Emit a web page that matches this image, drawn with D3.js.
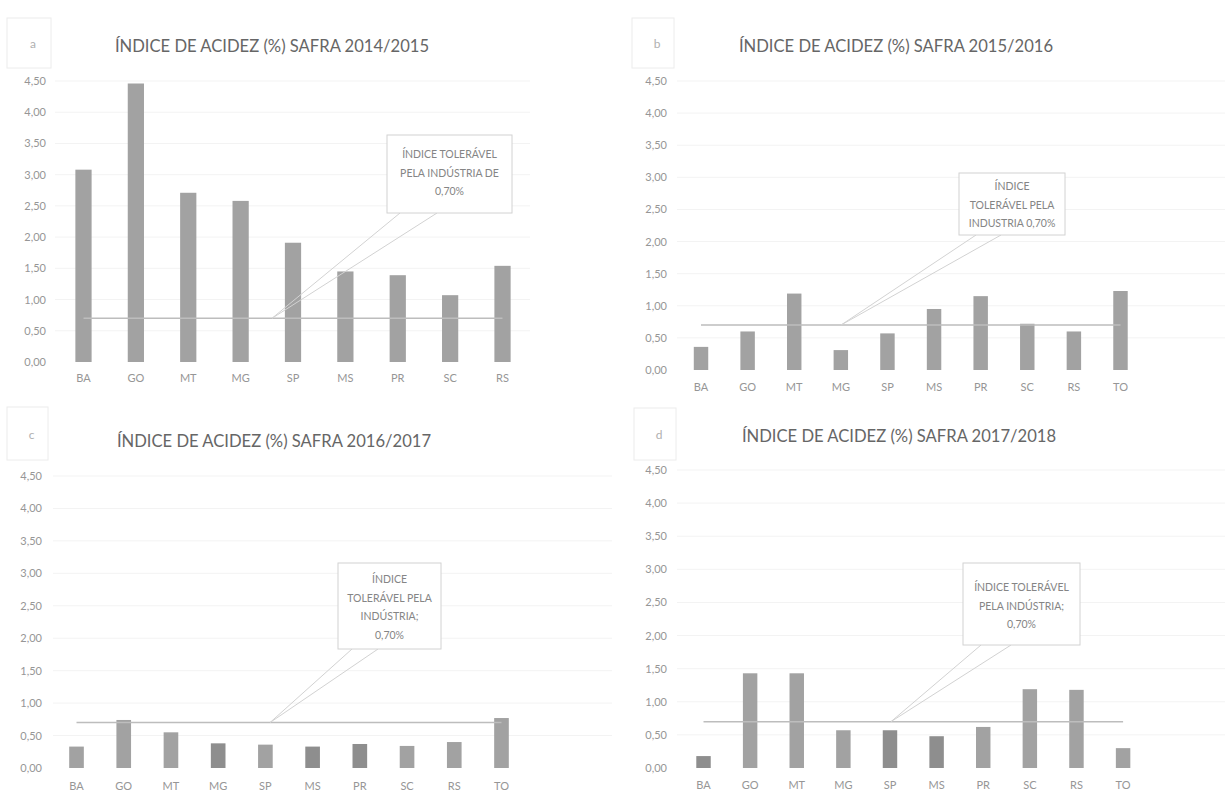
<!DOCTYPE html>
<html>
<head>
<meta charset="utf-8">
<title>Índice de acidez (%) por safra</title>
<style>
  body { margin: 0; background: #fff; }
  svg text { font-family: "Lato", "Open Sans", sans-serif; }
</style>
</head>
<body>
<script src="https://cdn.jsdelivr.net/npm/d3@7"></script>
<script>

// dados
var estados9  = ["BA", "GO", "MT", "MG", "SP", "MS", "PR", "SC", "RS"];
var estados10 = ["BA", "GO", "MT", "MG", "SP", "MS", "PR", "SC", "RS", "TO"];

var acidez1415 = [3.08, 4.46, 2.71, 2.58, 1.91, 1.45, 1.39, 1.07, 1.54];
var acidez1516 = [0.36, 0.60, 1.19, 0.31, 0.57, 0.95, 1.15, 0.72, 0.60, 1.23];
var acidez1617 = [0.33, 0.74, 0.55, 0.38, 0.36, 0.33, 0.37, 0.34, 0.40, 0.77];
var acidez1718 = [0.18, 1.43, 1.43, 0.57, 0.57, 0.48, 0.62, 1.19, 1.18, 0.30];

var limite = 0.70;   // índice tolerável pela indústria
var yTicks = [0, 0.5, 1, 1.5, 2, 2.5, 3, 3.5, 4, 4.5];

var titulos = [
  "ÍNDICE DE ACIDEZ (%) SAFRA 2014/2015",
  "ÍNDICE DE ACIDEZ (%) SAFRA 2015/2016",
  "ÍNDICE DE ACIDEZ (%) SAFRA 2016/2017",
  "ÍNDICE DE ACIDEZ (%) SAFRA 2017/2018"
];
var letras = ["a", "b", "c", "d"];
var notas = [
  ["ÍNDICE TOLERÁVEL", "PELA INDÚSTRIA DE", "0,70%"],
  ["ÍNDICE", "TOLERÁVEL PELA", "INDUSTRIA 0,70%"],
  ["ÍNDICE", "TOLERÁVEL PELA", "INDÚSTRIA;", "0,70%"],
  ["ÍNDICE TOLERÁVEL", "PELA INDÚSTRIA;", "0,70%"]
];

var width = 1227, height = 802;

var svg = d3.select("body").append("svg")
    .attr("width", width)
    .attr("height", height);

// posição de cada painel na página
var paineis = [
  { cats: estados9,  vals: acidez1415, xr: [57.3, 528.7], yr: [362, 81],
    labelX: 46, gridX: [55, 530], xLabY: 384, titleX: 272, titleY: 52,
    box: [387, 135, 125, 78], base: [400, 437], tipX: 272, lineY0: 158,
    tag: [7, 18, 44, 50], dark: [] },
  { cats: estados10, vals: acidez1516, xr: [677.7, 1143.8], yr: [370, 81],
    labelX: 667, gridX: [677, 1225], xLabY: 393, titleX: 896, titleY: 52,
    box: [959, 173, 106, 62], base: [976, 1001], tipX: 841, lineY0: 190,
    tag: [632, 18, 42, 50], dark: [] },
  { cats: estados10, vals: acidez1617, xr: [52.9, 525.1], yr: [768, 476],
    labelX: 42, gridX: [53, 612], xLabY: 792, titleX: 274, titleY: 447,
    box: [338, 563, 103, 86], base: [352, 378], tipX: 270, lineY0: 583,
    tag: [7, 407, 41, 53], dark: ["MG", "MS", "PR"] },
  { cats: estados10, vals: acidez1718, xr: [680.2, 1146.4], yr: [768, 470],
    labelX: 667, gridX: [677, 1225], xLabY: 791, titleX: 899, titleY: 442,
    box: [963, 563, 117, 82], base: [981, 1011], tipX: 891, lineY0: 591,
    tag: [634, 408, 42, 52], dark: ["BA", "SP", "MS"] }
];

function desenha(p, i) {
  var g = svg.append("g");

  var x = d3.scaleBand()
      .domain(p.cats)
      .range(p.xr)
      .paddingInner(0.69)
      .paddingOuter(0.345);

  var y = d3.scaleLinear()
      .domain([0, 4.5])
      .range(p.yr);

  // linhas de grade
  g.append("g")
    .selectAll("line")
    .data(yTicks.slice(1))
    .enter().append("line")
    .attr("x1", p.gridX[0]).attr("x2", p.gridX[1])
    .attr("y1", function(d){ return y(d); })
    .attr("y2", function(d){ return y(d); })
    .attr("stroke", "#f3f3f3")
    .attr("stroke-width", 1);

  // eixo y
  var eixoY = d3.axisLeft(y)
      .tickValues(yTicks)
      .tickSize(0)
      .tickPadding(0)
      .tickFormat(function(d){ return d3.format(".2f")(d).replace(".", ","); });
  var gy = g.append("g")
      .attr("transform", "translate(" + p.labelX + ",0)")
      .call(eixoY);
  gy.select(".domain").remove();
  gy.selectAll("text").attr("fill", "#969696").attr("font-size", "11px");

  // eixo x
  var eixoX = d3.axisBottom(x).tickSize(0).tickPadding(0);
  var gx = g.append("g")
      .attr("transform", "translate(0," + (p.xLabY - 10) + ")")
      .call(eixoX);
  gx.select(".domain").remove();
  gx.selectAll("text").attr("fill", "#969696").attr("font-size", "11px");

  // barras
  g.append("g")
    .selectAll("rect")
    .data(p.vals)
    .enter().append("rect")
    .attr("x", function(d, k){ return x(p.cats[k]); })
    .attr("y", function(d){ return y(d); })
    .attr("width", x.bandwidth())
    .attr("height", function(d){ return y(0) - y(d); })
    .attr("fill", function(d, k){
      return p.dark.indexOf(p.cats[k]) >= 0 ? "#8e8e8e" : "#a2a2a2";
    });

  // linha do índice tolerável
  var xa = x(p.cats[0]) + x.bandwidth() / 2;
  var xb = x(p.cats[p.cats.length - 1]) + x.bandwidth() / 2;
  g.append("line")
    .attr("x1", xa).attr("x2", xb)
    .attr("y1", y(limite)).attr("y2", y(limite))
    .attr("stroke", "#bdbdbd")
    .attr("stroke-width", 1.5);

  // balão de texto
  var b = p.box;
  g.append("path")
    .attr("d", "M" + p.base[0] + "," + (b[1] + b[3]) +
               " L" + p.tipX + "," + y(limite) +
               " L" + p.base[1] + "," + (b[1] + b[3]))
    .attr("fill", "none")
    .attr("stroke", "#d2d2d2")
    .attr("stroke-width", 1);
  g.append("rect")
    .attr("x", b[0]).attr("y", b[1])
    .attr("width", b[2]).attr("height", b[3])
    .attr("fill", "#fff")
    .attr("stroke", "#d2d2d2")
    .attr("stroke-width", 1);
  g.append("g")
    .selectAll("text")
    .data(notas[i])
    .enter().append("text")
    .attr("x", b[0] + b[2] / 2)
    .attr("y", function(d, k){ return p.lineY0 + k * 18.5; })
    .attr("text-anchor", "middle")
    .attr("font-size", "10.5px")
    .attr("fill", "#858585")
    .text(function(d){ return d; });

  // título
  g.append("text")
    .attr("x", p.titleX).attr("y", p.titleY)
    .attr("text-anchor", "middle")
    .attr("font-size", "16.6px")
    .attr("fill", "#666")
    .text(titulos[i]);

  // letra do painel
  var t = p.tag;
  g.append("rect")
    .attr("x", t[0]).attr("y", t[1])
    .attr("width", t[2]).attr("height", t[3])
    .attr("fill", "none")
    .attr("stroke", "#ececec");
  g.append("text")
    .attr("x", t[0] + t[2] / 2 + 4).attr("y", t[1] + t[3] / 2 + 5)
    .attr("text-anchor", "middle")
    .attr("font-size", "12px")
    .attr("fill", "#b0b0b0")
    .text(letras[i]);
}

paineis.forEach(desenha);

</script>
</body>
</html>
